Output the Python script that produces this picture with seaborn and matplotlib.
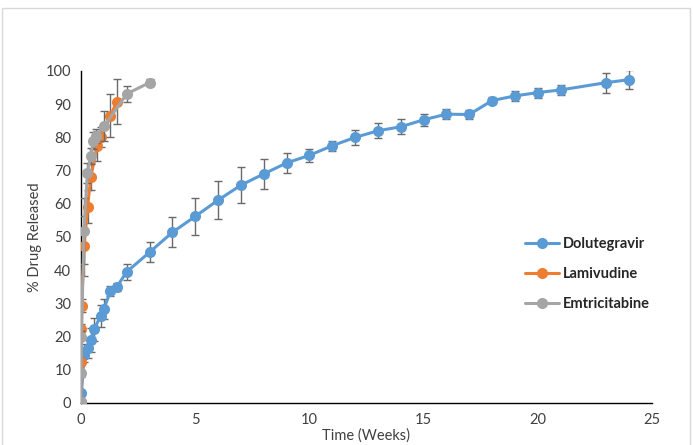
import numpy as np
import pandas as pd
import seaborn as sns
from matplotlib import pyplot as plt
from matplotlib.patches import Rectangle

# Dolutegravir
dtg_weeks = [0, 0.02, 0.14, 0.29, 0.43, 0.57, 0.86, 1.0, 1.29, 1.57, 2, 3, 4, 5, 6, 7, 8,
             9, 10, 11, 12, 13, 14, 15, 16, 17, 18, 19, 20, 21, 23, 24]
dtg_release = [0.3, 3.0, 14.5, 16.5, 19.0, 22.2, 26.2, 28.4, 33.6, 35.0, 39.5, 45.4, 51.4, 56.2,
               61.1, 65.6, 69.0, 72.3, 74.6, 77.5, 80.0, 82.0, 83.2, 85.3, 87.0, 86.9, 91.1,
               92.5, 93.5, 94.3, 96.5, 97.4]
dtg_err = [0.5, 1.0, 2.0, 3.0, 3.5, 3.5, 3.2, 3.0, 1.5, 1.2, 2.5, 3.0, 4.5, 5.5, 5.7, 5.5, 4.4,
           3.0, 2.0, 1.5, 2.3, 2.2, 2.3, 1.8, 1.6, 1.5, 1.0, 1.5, 1.5, 1.5, 3.0, 2.8]

# Lamivudine
lam_weeks = [0, 0.01, 0.02, 0.03, 0.14, 0.29, 0.43, 0.71, 0.86, 1.29, 1.57]
lam_release = [0.3, 12.5, 22.2, 29.3, 47.4, 59.1, 68.2, 77.4, 80.0, 86.5, 90.8]
lam_err = [0.5, 1.0, 1.5, 2.0, 9.0, 5.0, 4.0, 4.5, 3.0, 6.5, 6.8]

# Emtricitabine
ftc_weeks = [0, 0.01, 0.02, 0.13, 0.28, 0.42, 0.54, 0.64, 1.02, 2.0, 3.0]
ftc_release = [0.3, 8.9, 19.8, 51.8, 69.4, 74.4, 79.0, 80.4, 83.4, 93.1, 96.5]
ftc_err = [0.5, 1.0, 2.0, 10.0, 3.0, 2.5, 2.5, 2.0, 4.5, 2.5, 1.0]

series = [('Dolutegravir', dtg_weeks, dtg_release, dtg_err, '#5B9BD5'),
          ('Lamivudine', lam_weeks, lam_release, lam_err, '#ED7D31'),
          ('Emtricitabine', ftc_weeks, ftc_release, ftc_err, '#A5A5A5')]

sns.set_style('white')
plt.rcParams['font.family'] = ['Lato', 'DejaVu Sans']

fig = plt.figure(figsize=(6.93, 4.45), dpi=100)
ax = fig.add_axes([81/693, 1 - 403/445, (652 - 81)/693, (403 - 71)/445])

for i, (name, x, y, err, color) in enumerate(series):
    df = pd.DataFrame({'Time (Weeks)': x, '% Drug Released': y})
    ax.errorbar(x, y, yerr=err, fmt='none', ecolor='#6A6A6A', elinewidth=1,
                capsize=3.2, capthick=1, zorder=2 + i)
    sns.lineplot(data=df, x='Time (Weeks)', y='% Drug Released', ax=ax, color=color,
                 marker='o', markersize=8, markeredgewidth=0, linewidth=2.2, label=name,
                 zorder=2.5 + i)

ax.set_xlim(0, 25)
ax.set_ylim(0, 100)
ax.set_xticks(range(0, 26, 5))
ax.set_yticks(range(0, 101, 10))
ax.tick_params(axis='both', direction='out', length=3, width=1, color='black',
               labelsize=10.5, labelcolor='#404040', pad=4)
for side in ['top', 'right']:
    ax.spines[side].set_visible(False)
for side in ['left', 'bottom']:
    ax.spines[side].set_color('black')
    ax.spines[side].set_linewidth(1)

ax.set_xlabel('Time (Weeks)', fontsize=10.5, color='#404040', labelpad=1)
ax.set_ylabel('% Drug Released', fontsize=10.5, color='#404040', labelpad=3)

ax.legend(loc='center left', bbox_to_anchor=(512/693, 1 - 274/445),
          bbox_transform=fig.transFigure, frameon=False, handlelength=2.3,
          labelspacing=1.1, handletextpad=0.3, prop={'weight': 'bold', 'size': 10.5})

# light chart-area border like the original
fig.patches.append(Rectangle((2/693, -0.02), 688/693, 1.02 - 8/445, transform=fig.transFigure,
                             fill=False, edgecolor='#D9D9D9', linewidth=1))

fig.savefig('out.png', dpi=100)
